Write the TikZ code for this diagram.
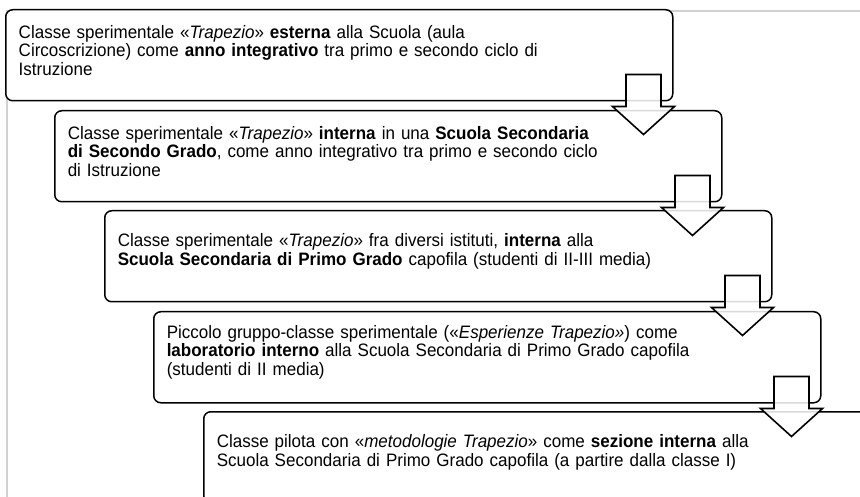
\documentclass[tikz,border=0pt]{standalone}
\usepackage{fontspec}
\setmainfont{Liberation Sans}[FakeStretch=0.945]
\usetikzlibrary{shapes,positioning}

\begin{document}
\begin{tikzpicture}[x=1pt,y=-1pt]
\tikzstyle{box}=[draw, line width=1.5pt, rounded corners=7pt, fill=white,
  anchor=north west, minimum width=667pt, minimum height=91pt,
  text width=641pt, inner xsep=13pt, align=left,
  font=\fontsize{18}{18.6}\selectfont,
  execute at end node={\endgraf\vspace{10pt}}];
\tikzstyle{blockarrow}=[draw, line width=1.6pt, fill=white, fill opacity=0.85];

  \clip (0,0) rectangle (860,497);
  \draw[line width=2pt, black!18] (7,11) rectangle (900,560);

  \node[box] (a) at (5,9) {Classe sperimentale «\textit{Trapezio}» \textbf{esterna} alla Scuola (aula\\
    Circoscrizione) come \textbf{anno integrativo} tra primo e secondo ciclo di\\
    Istruzione};
  \node[box] (b) at (54,110) {Classe sperimentale «\textit{Trapezio}» \textbf{interna} in una \textbf{Scuola Secondaria}\\
    \textbf{di Secondo Grado}, come anno integrativo tra primo e secondo ciclo\\
    di Istruzione};
  \node[box] (c) at (104,210) {Classe sperimentale «\textit{Trapezio}» fra diversi istituti, \textbf{interna} alla\\
    \textbf{Scuola Secondaria di Primo Grado} capofila (studenti di II-III media)};
  \node[box] (d) at (153,311) {Piccolo gruppo-classe sperimentale («\textit{Esperienze Trapezio»}) come\\
    \textbf{laboratorio interno} alla Scuola Secondaria di Primo Grado capofila\\
    (studenti di II media)};
  \node[box] (e) at (203,411) {Classe pilota con «\textit{metodologie Trapezio}» come \textbf{sezione interna} alla\\
    Scuola Secondaria di Primo Grado capofila (a partire dalla classe I)};

  \foreach \n in {a,b,c,d}
\draw [blockarrow] (\n.south east) ++(-47.5,-27) -- ++(35,0) -- ++(0,32) -- ++(13.5,0)
  -- ++(-31,28) -- ++(-31,-28) -- ++(13.5,0) -- cycle;

\end{tikzpicture}
\end{document}
